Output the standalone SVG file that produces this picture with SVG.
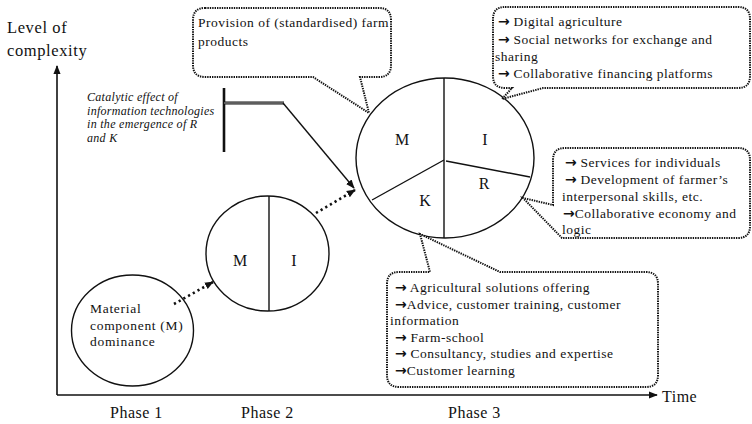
<svg xmlns="http://www.w3.org/2000/svg" width="752" height="424" viewBox="0 0 752 424">
<style>
text{font-family:"Liberation Serif","Times New Roman",serif;fill:#111}
.ax{font-size:16.5px;letter-spacing:0.6px}
.ph{font-size:16px;letter-spacing:0.5px}
.lt{font-size:16px}
.co{font-size:13.5px;letter-spacing:0.5px}
.ar{font-family:"DejaVu Sans",sans-serif;font-size:14px;font-weight:bold;letter-spacing:0}
.mat{font-size:13.5px;letter-spacing:0.7px}
.cat{font-size:12px;font-style:italic;letter-spacing:0.3px}
.circ{fill:#fff;stroke:#111;stroke-width:1.4}
.div{stroke:#111;stroke-width:1.4;fill:none}
.callout{fill:#fff;stroke:#111;stroke-width:2;stroke-dasharray:1.4 1}
.axis{stroke:#111;stroke-width:1.6;fill:none}
.dots{stroke:#111;stroke-width:2.6;stroke-dasharray:2.2 3.2;fill:none}
</style>
<defs>
<marker id="ah" viewBox="0 0 10 10" refX="9" refY="5" markerWidth="9" markerHeight="9" markerUnits="userSpaceOnUse" orient="auto">
<path d="M0,1 L10,5 L0,9 Z" fill="#111"/>
</marker>
</defs>

<g id="axes">
<line class="axis" x1="57" y1="395" x2="57" y2="66" marker-end="url(#ah)"/>
<line class="axis" x1="57" y1="395" x2="657" y2="395" marker-end="url(#ah)"/>
<text class="ax" x="7" y="33">Level of</text>
<text class="ax" x="7" y="56">complexity</text>
<text class="ph" x="662" y="402">Time</text>
<text class="ph" x="110" y="418">Phase 1</text>
<text class="ph" x="241" y="418">Phase 2</text>
<text class="ph" x="448" y="418">Phase 3</text>
</g>

<g id="phase1">
<ellipse class="circ" cx="132.5" cy="330.5" rx="61" ry="55.5"/>
<text class="mat" x="90" y="313">Material</text>
<text class="mat" x="90" y="329.5">component (M)</text>
<text class="mat" x="90" y="346">dominance</text>
</g>

<g id="phase2">
<ellipse class="circ" cx="267.5" cy="253.5" rx="61.5" ry="57.5"/>
<line class="div" x1="269" y1="196" x2="269" y2="311"/>
<text class="lt" x="240" y="266" text-anchor="middle">M</text>
<text class="lt" x="294" y="266" text-anchor="middle">I</text>
</g>

<g id="phase3">
<ellipse class="circ" cx="445" cy="158" rx="89" ry="80"/>
<line class="div" x1="444" y1="78" x2="444" y2="238"/>
<line class="div" x1="444" y1="160" x2="372" y2="200"/>
<line class="div" x1="446" y1="161" x2="530" y2="177"/>
<text class="lt" x="402" y="145" text-anchor="middle">M</text>
<text class="lt" x="485" y="145" text-anchor="middle">I</text>
<text class="lt" x="484" y="189" text-anchor="middle">R</text>
<text class="lt" x="425" y="206" text-anchor="middle">K</text>
</g>

<g id="catalytic">
<text class="cat" x="87" y="101">Catalytic effect of</text>
<text class="cat" x="87" y="114.5">information technologies</text>
<text class="cat" x="87" y="128">in the emergence of R</text>
<text class="cat" x="87" y="141.5">and K</text>
<line x1="224" y1="88" x2="224" y2="152" stroke="#111" stroke-width="2.6"/>
</g>

<g id="callout-provision">
<path class="callout" d="M205,8 H379 Q391,8 391,20 V65 Q391,77 379,77 H360 L369,113 L313,77 H205 Q193,77 193,65 V20 Q193,8 205,8 Z"/>
<text class="co" x="198" y="27">Provision of (standardised) farm</text>
<text class="co" x="198" y="46">products</text>
</g>

<g id="callout-I">
<path class="callout" d="M505,7 H738 Q750,7 750,19 V76 Q750,88 738,88 H543 L502,99 L512,88 H505 Q493,88 493,76 V19 Q493,7 505,7 Z"/>
<text class="co" x="498" y="26"><tspan class="ar">→</tspan> Digital agriculture</text>
<text class="co" x="498" y="43.5"><tspan class="ar">→</tspan> Social networks for exchange and</text>
<text class="co" x="495" y="61">sharing</text>
<text class="co" x="498" y="78"><tspan class="ar">→</tspan> Collaborative financing platforms</text>
</g>

<g id="callout-R">
<path class="callout" d="M565,148 H738 Q750,148 750,160 V226 Q750,238 738,238 H562 L523,198 L553,205 V160 Q553,148 565,148 Z"/>
<text class="co" x="565" y="167"><tspan class="ar">→</tspan> Services for individuals</text>
<text class="co" x="565" y="184"><tspan class="ar">→</tspan> Development of farmer’s</text>
<text class="co" x="562" y="201">interpersonal skills, etc.</text>
<text class="co" x="563" y="218"><tspan class="ar">→</tspan>Collaborative economy and</text>
<text class="co" x="562" y="234">logic</text>
</g>

<g id="callout-K">
<path class="callout" d="M399,272 H430 L420,234 L500,272 H646 Q658,272 658,284 V375 Q658,387 646,387 H399 Q387,387 387,375 V284 Q387,272 399,272 Z"/>
<text class="co" x="395" y="292"><tspan class="ar">→</tspan> Agricultural solutions offering</text>
<text class="co" x="395" y="308.5"><tspan class="ar">→</tspan>Advice, customer training, customer</text>
<text class="co" x="390" y="325">information</text>
<text class="co" x="395" y="341.5"><tspan class="ar">→</tspan> Farm-school</text>
<text class="co" x="395" y="358"><tspan class="ar">→</tspan> Consultancy, studies and expertise</text>
<text class="co" x="395" y="374.5"><tspan class="ar">→</tspan>Customer learning</text>
</g>

<g id="connectors">
<line class="dots" x1="174" y1="304" x2="213" y2="282" marker-end="url(#ah)"/>
<line class="dots" x1="316" y1="213" x2="355" y2="190" marker-end="url(#ah)"/>
<polyline points="224,103 284,103" fill="none" stroke="#111" stroke-width="3.2"/>
<polyline points="224,103 284,103" fill="none" stroke="#aaa" stroke-width="1.2"/>
<polyline points="283,103 354,188" fill="none" stroke="#111" stroke-width="1.4" marker-end="url(#ah)"/>
</g>
</svg>
